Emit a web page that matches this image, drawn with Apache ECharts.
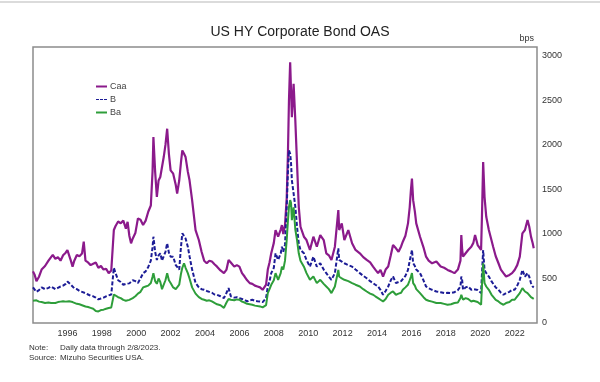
<!DOCTYPE html>
<html><head><meta charset="utf-8">
<script src="https://cdn.jsdelivr.net/npm/echarts@6/dist/echarts.min.js"></script>
<style>html,body{margin:0;padding:0;background:#fff}#c{width:600px;height:382px}</style>
</head><body><div id="c"></div>
<script>
const title = "US HY Corporate Bond OAS";
const seriesNames = ["Caa", "B", "Ba"];
const yTicks = [0, 500, 1000, 1500, 2000, 2500, 3000];
const xTickYears = [1996, 1998, 2000, 2002, 2004, 2006, 2008, 2010, 2012, 2014, 2016, 2018, 2020, 2022];
const dates = [
1994.0,1994.1,1994.2,1994.35,1994.5,1994.7,1994.9,1995.05,1995.15,1995.3,1995.45,1995.6,1995.75,1995.9,
1996.0,1996.1,1996.2,1996.3,1996.4,1996.55,1996.7,1996.85,1996.95,1997.05,1997.2,1997.35,1997.5,1997.65,1997.8,1997.95,
1998.1,1998.25,1998.4,1998.55,1998.65,1998.7,1998.8,1998.95,1999.1,1999.25,1999.4,1999.5,1999.6,1999.7,1999.8,1999.95,
2000.1,2000.25,2000.4,2000.55,2000.7,2000.85,2000.95,2001.0,2001.1,2001.2,2001.3,2001.4,2001.5,2001.6,2001.7,2001.8,2001.9,
2002.0,2002.15,2002.3,2002.38,2002.5,2002.6,2002.68,2002.78,2002.87,2003.0,2003.1,2003.25,2003.45,2003.64,2003.8,2003.95,
2004.1,2004.25,2004.4,2004.55,2004.7,2004.9,2005.1,2005.25,2005.37,2005.5,2005.7,2005.85,
2006.0,2006.15,2006.3,2006.45,2006.6,2006.75,2006.9,2007.05,2007.2,2007.35,2007.45,2007.55,2007.65,2007.75,2007.85,
2008.0,2008.1,2008.25,2008.4,2008.47,2008.55,2008.65,2008.75,2008.82,2008.88,2008.95,2009.0,2009.05,2009.15,2009.25,2009.35,2009.45,2009.55,2009.75,2009.9,
2010.1,2010.3,2010.5,2010.7,2010.9,2011.05,2011.2,2011.35,2011.55,2011.75,2011.8,2011.95,
2012.1,2012.33,2012.55,2012.75,2013.0,2013.2,2013.4,2013.6,2013.77,2013.9,
2014.06,2014.2,2014.35,2014.5,2014.65,2014.8,2014.93,2015.1,2015.25,2015.4,2015.5,2015.65,2015.8,2015.9,2015.97,
2016.03,2016.1,2016.2,2016.28,2016.5,2016.7,2016.85,2017.0,2017.2,2017.45,2017.7,2017.9,
2018.1,2018.3,2018.5,2018.7,2018.85,2018.9,2018.95,2019.0,2019.15,2019.3,2019.48,2019.6,2019.7,2019.85,
2020.05,2020.1,2020.17,2020.25,2020.35,2020.5,2020.65,2020.75,2020.9,2021.06,2021.2,2021.35,2021.5,2021.7,2021.85,
2022.0,2022.15,2022.3,2022.45,2022.6,2022.75,2022.85,2022.95,2023.05,2023.11
];
const caa = [
580,540,470,520,600,640,700,740,765,720,740,700,760,790,
820,760,700,633,700,764,750,780,913,700,680,650,665,680,620,640,
600,610,560,590,580,1044,1090,1140,1120,1150,1060,1137,980,895,950,1010,
1175,1160,1100,1150,1250,1320,1700,2088,1700,1417,1600,1640,1620,1864,2000,2182,1900,
1715,1677,1550,1455,1600,1800,1939,1900,1864,1700,1603,1380,1044,932,800,700,
671,700,690,660,633,590,560,600,708,680,633,650,
633,560,522,480,448,440,420,410,400,373,390,430,600,680,783,
900,1044,970,1050,1100,1000,1100,1400,1900,2499,2927,2611,2312,2686,2275,1790,1305,1081,969,932,
820,969,857,988,932,783,760,708,857,1268,1044,1119,
932,1044,895,820,783,740,708,680,633,600,
560,596,522,600,634,760,876,839,800,860,913,980,1119,1300,1492,
1622,1380,1250,1119,969,850,745,700,671,690,634,620,
596,580,560,600,700,988,820,745,783,820,857,900,988,876,
820,1200,1808,1417,1193,1044,932,857,750,671,600,560,522,540,560,
596,650,745,1007,1044,1156,1081,970,895,839
];
const bVals = [
400,380,350,370,400,380,395,410,400,380,395,410,420,440,
466,450,430,410,390,380,360,350,340,335,320,305,300,285,265,275,
285,300,310,320,330,620,560,480,460,430,440,430,445,460,480,470,
450,500,560,580,630,700,850,969,800,708,760,783,700,720,800,895,790,
745,745,650,633,600,850,1007,1025,950,857,750,600,450,400,380,373,
360,350,340,320,317,300,280,340,392,300,285,290,
280,270,260,242,255,261,250,245,242,235,224,280,410,470,560,
620,783,708,780,857,800,880,1300,1700,1939,1900,1800,1603,1455,1305,1081,895,820,783,708,
633,745,633,671,600,560,520,485,560,839,708,690,
671,650,633,600,560,530,503,470,448,430,
410,373,317,360,410,480,522,448,460,470,485,530,596,700,760,
820,671,640,600,560,480,410,390,373,354,345,336,
340,336,345,370,410,522,480,373,400,410,373,380,392,370,
336,550,820,596,560,522,470,448,400,373,340,317,336,350,373,
373,420,485,596,522,560,520,448,410,400
];
const ba = [
250,245,255,240,235,225,230,225,230,225,235,240,245,240,
250,245,240,235,225,215,210,200,195,185,180,170,160,135,130,145,
150,160,168,175,190,320,300,290,280,260,250,245,260,270,280,300,
330,350,400,410,420,450,520,560,470,440,500,460,380,400,480,560,480,
450,400,380,373,430,550,620,671,620,560,500,400,330,290,270,261,
250,255,242,225,210,200,170,230,270,261,255,265,
261,240,230,215,210,205,195,190,186,175,168,200,336,380,429,
480,560,485,560,633,600,700,932,1150,1300,1380,1350,1156,1300,1050,932,783,700,633,560,
485,522,448,485,440,410,380,336,410,596,522,500,
485,470,448,430,410,380,354,330,317,300,
280,261,242,270,317,340,354,317,330,340,373,400,430,480,520,
560,448,420,380,336,290,261,250,240,224,224,215,
205,210,224,230,280,317,300,261,280,270,242,250,242,235,
205,420,671,448,410,373,320,298,260,242,220,205,224,235,261,
261,300,336,392,354,336,320,290,280,270
];

const colors = {Caa: "#8B1A8B", B: "#1C1C96", Ba: "#2E9E3A"};
function pairs(vals){ return dates.map((d,i)=>[d, vals[i]]); }

const chart = echarts.init(document.getElementById('c'), null, {renderer:'canvas'});
chart.setOption({
  animation:false,
  backgroundColor:'#fff',
  title:{text:title,left:'center',top:20,textStyle:{fontFamily:'Liberation Sans',fontSize:14,fontWeight:'normal',color:'#222'}},
  grid:{left:33,right:63,top:47,bottom:59,show:true,borderColor:'#8c8c8c',borderWidth:1.5,backgroundColor:'transparent'},
  legend:{orient:'vertical',left:91,top:77,itemWidth:11,itemHeight:2,itemGap:4,
    textStyle:{fontFamily:'Liberation Sans',fontSize:9,color:'#444',padding:[0,0,0,-2]},
    data:[
      {name:'Caa',icon:'rect'},
      {name:'B',icon:'path://M0,0h3v1h-3zM4,0h3v1h-3zM8,0h3v1h-3z'},
      {name:'Ba',icon:'rect'}
    ]},
  xAxis:{type:'value',min:1994,max:2023.3,interval:2,
    axisLine:{show:false},axisTick:{show:false},splitLine:{show:false},
    axisLabel:{fontFamily:'Liberation Sans',fontSize:9,color:'#333',margin:6,
      formatter:v=> xTickYears.indexOf(Math.round(v))>=0 && Math.abs(v-Math.round(v))<1e-6 ? String(Math.round(v)) : ''}},
  yAxis:{type:'value',position:'right',min:0,max:3100,interval:500,
    name:'bps',nameLocation:'end',nameGap:4,
    nameTextStyle:{fontFamily:'Liberation Sans',fontSize:9,color:'#333',align:'right',padding:[0,3,0,0]},
    axisLine:{show:false},axisTick:{show:false},splitLine:{show:false},
    axisLabel:{fontFamily:'Liberation Sans',fontSize:9,color:'#333',margin:5,
      formatter:v=> yTicks.indexOf(v)>=0 ? String(v) : ''}},
  series:[
    {name:'Caa',type:'line',data:pairs(caa),showSymbol:false,symbol:'none',color:colors.Caa,lineStyle:{width:2.2,color:colors.Caa}},
    {name:'B',type:'line',data:pairs(bVals),showSymbol:false,symbol:'none',color:colors.B,lineStyle:{width:2,color:colors.B,type:[4,2]}},
    {name:'Ba',type:'line',data:pairs(ba),showSymbol:false,symbol:'none',color:colors.Ba,lineStyle:{width:2,color:colors.Ba}}
  ],
  graphic:[
    {type:'line',shape:{x1:0,y1:2,x2:600,y2:2},style:{stroke:'#cfcfcf',lineWidth:1.5}},
    {type:'text',left:29,top:344,style:{text:'Note:',font:'8px Liberation Sans',fill:'#333'}},
    {type:'text',left:60,top:344,style:{text:'Daily data through 2/8/2023.',font:'8px Liberation Sans',fill:'#333'}},
    {type:'text',left:29,top:354,style:{text:'Source:',font:'8px Liberation Sans',fill:'#333'}},
    {type:'text',left:60,top:354,style:{text:'Mizuho Securities USA.',font:'8px Liberation Sans',fill:'#333'}}
  ]
});
</script></body></html>
